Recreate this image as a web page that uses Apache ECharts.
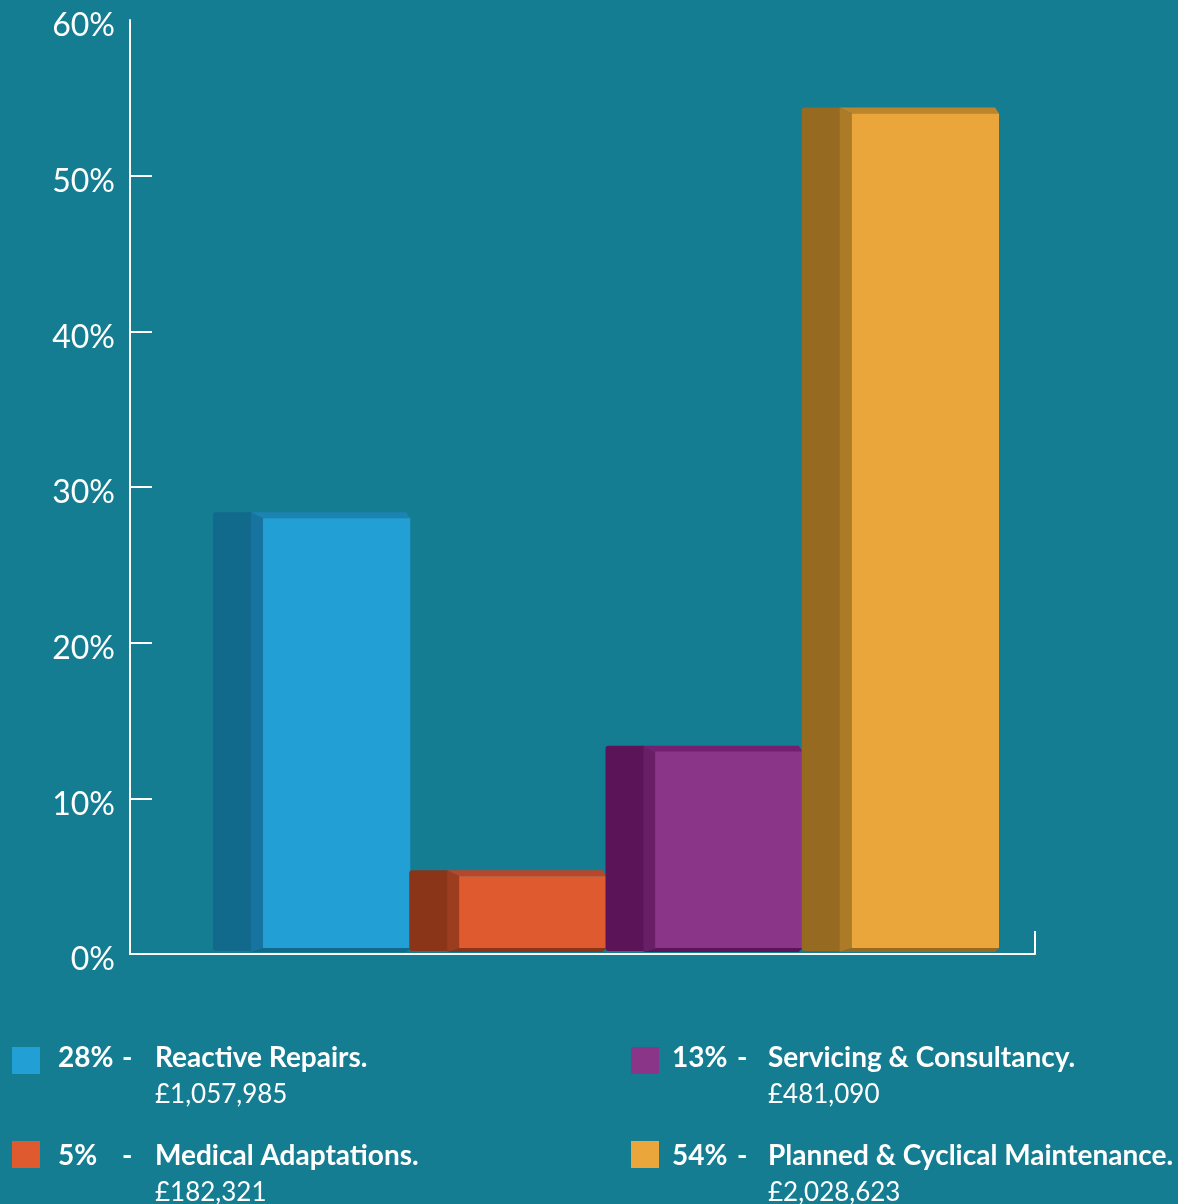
<!DOCTYPE html>
<html>
<head>
<meta charset="utf-8">
<script src="https://cdn.jsdelivr.net/npm/echarts@6/dist/echarts.min.js"></script>
<style>
html,body{margin:0;padding:0;background:#157D92;}
#chart{width:1178px;height:1204px;}
</style>
</head>
<body>
<div id="chart"></div>
<script>
// ---- data ----
var categories = ['Reactive Repairs.', 'Medical Adaptations.', 'Servicing & Consultancy.', 'Planned & Cyclical Maintenance.'];
var shares = [28, 5, 13, 54];
var amounts = ['£1,057,985', '£182,321', '£481,090', '£2,028,623'];
var yTicks = [0, 10, 20, 30, 40, 50, 60];

// ---- styles ----
var frontColors = ['#22A0D6', '#E05A30', '#8B3589', '#EBA63B'];
var sideColors  = ['#116A8C', '#8A3418', '#5C1458', '#976A21'];
var bevelColors = ['#1774A0', '#9C3D1F', '#6A1E66', '#AD7A28'];
var topColors   = ['#1C84B2', '#B8472A', '#741F72', '#BC852D'];
var FONT = 'Lato';

var chart = echarts.init(document.getElementById('chart'));

function renderItem(params, api) {
  var i = api.value(0), v = api.value(1), k = params.dataIndex;
  var top = api.coord([i, v]);
  var base = api.coord([i, 0]);
  var bw = api.size([1, 0])[0];
  var x0 = top[0] - bw / 2;
  var ty = top[1], by = base[1];
  var side = 38, bev = 12, fe = bw + 1;
  return {
    type: 'group',
    children: [
      {type: 'rect', shape: {x: x0, y: ty - 6, width: side + 1, height: by - 3 - (ty - 6), r: [3, 0, 0, 3]}, style: {fill: sideColors[k]}},
      {type: 'polygon', shape: {points: [[x0 + side, ty - 6], [x0 + fe - 4, ty - 6], [x0 + fe, ty], [x0 + side + bev, ty]]}, style: {fill: topColors[k]}},
      {type: 'polygon', shape: {points: [[x0 + side, ty - 6], [x0 + side + bev, ty], [x0 + side + bev, by - 6], [x0 + side, by - 2]]}, style: {fill: bevelColors[k]}},
      {type: 'polygon', shape: {points: [[x0 + side + bev, by - 6], [x0 + fe, by - 6], [x0 + fe - 4, by - 2], [x0 + side, by - 2]]}, style: {fill: sideColors[k]}},
      {type: 'rect', shape: {x: x0 + side + bev, y: ty, width: fe - side - bev, height: by - 6 - ty}, style: {fill: frontColors[k]}}
    ]
  };
}

// legend graphics built from data arrays
var legendGraphics = [];
var colX = [[12, 58, 122, 155], [631, 672, 737, 768]];
var squareTop = [1047, 1141];
var textMid = [1058, 1156];
var LF = 28;
categories.forEach(function (name, i) {
  var c = colX[Math.floor(i / 2)], r = i % 2, ym = textMid[r];
  legendGraphics.push({type: 'rect', left: c[0], top: squareTop[r], shape: {width: 28, height: 27}, style: {fill: frontColors[i]}});
  legendGraphics.push({type: 'text', x: c[1], y: ym, style: {text: shares[i] + '%', fill: '#fff', font: 'bold ' + LF + 'px ' + FONT, verticalAlign: 'middle'}});
  legendGraphics.push({type: 'text', x: c[2], y: ym, style: {text: '-', fill: '#fff', font: 'bold ' + LF + 'px ' + FONT, verticalAlign: 'middle'}});
  legendGraphics.push({type: 'text', x: c[3], y: ym, style: {text: name, fill: '#fff', font: 'bold ' + LF + 'px ' + FONT, verticalAlign: 'middle'}});
  legendGraphics.push({type: 'text', x: c[3], y: ym + 37, style: {text: amounts[i], fill: '#fff', font: '26px ' + FONT, verticalAlign: 'middle'}});
});

chart.setOption({
  backgroundColor: '#157D92',
  animation: false,
  grid: [
    {left: 130, right: 143, top: 20, bottom: 250},
    {left: 213, right: 180, top: 20, bottom: 250}
  ],
  xAxis: [
    {gridIndex: 0, type: 'value', min: 0, max: 1,
     axisLine: {show: true, lineStyle: {color: '#fff', width: 2}},
     axisTick: {show: true, inside: true, length: 23, customValues: [1], lineStyle: {color: '#fff', width: 2}},
     axisLabel: {show: false}, splitLine: {show: false}},
    {gridIndex: 1, type: 'category', data: categories, show: false}
  ],
  yAxis: [
    {gridIndex: 0, type: 'value', min: yTicks[0], max: yTicks[yTicks.length - 1], interval: 10,
     axisLine: {show: true, lineStyle: {color: '#fff', width: 2}},
     axisTick: {show: true, inside: true, length: 22, customValues: yTicks.slice(0, -1), lineStyle: {color: '#fff', width: 2}},
     axisLabel: {color: '#fff', fontFamily: FONT, fontSize: 32, margin: 15, verticalAlign: 'top', lineHeight: 12, formatter: '{value}%'},
     splitLine: {show: false}},
    {gridIndex: 1, type: 'value', min: yTicks[0], max: yTicks[yTicks.length - 1], show: false}
  ],
  series: [{
    type: 'custom',
    xAxisIndex: 1, yAxisIndex: 1,
    renderItem: renderItem,
    data: shares.map(function (v, i) { return [i, v]; }),
    z: 1
  }],
  graphic: legendGraphics
});
</script>
</body>
</html>
